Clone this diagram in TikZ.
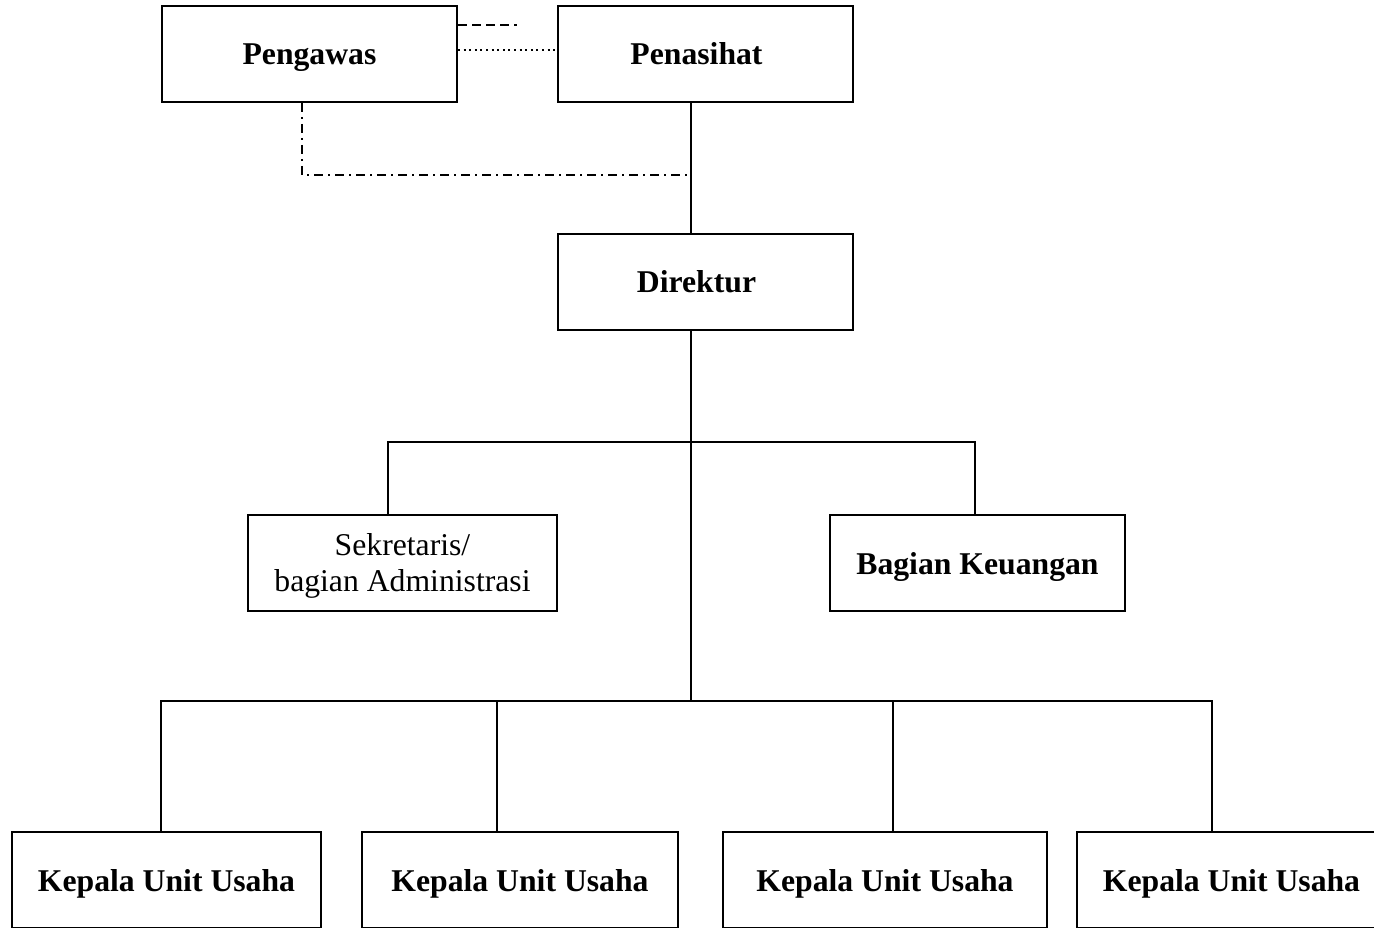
\documentclass[tikz,border=0pt]{standalone}
\usepackage{fontspec}
\setmainfont{Liberation Serif}
\begin{document}
\begin{tikzpicture}[x=1pt,y=-1pt,line width=2pt,
  box/.style={draw,rectangle,minimum width=#1,minimum height=96pt,inner sep=0pt,
              text height=30pt,text depth=8pt,
              font=\bfseries\fontsize{31.7}{36}\selectfont},
  plainbox/.style={draw,rectangle,minimum width=#1,minimum height=96pt,inner sep=0pt,align=center,
              font=\fontsize{31.7}{36}\selectfont},
  dashline/.style={dash pattern=on 9pt off 5pt},
  dotline/.style={dash pattern=on 2pt off 3.6pt},
  dashdotline/.style={dash pattern=on 9pt off 5pt on 2pt off 5pt}]
\useasboundingbox (0,0) rectangle (1374,928);
\clip (0,0) rectangle (1374,928);
\node[box=295] (peng) at (309.5,54) {Pengawas};
\node[box=295] (pen) at (705.5,54) {Penasihat\kern18pt};
\node[box=295] (dir) at (705.5,282) {Direktur\kern18pt};
\node[plainbox=309] (sek) at (402.5,563) {\rule{0pt}{28pt}Sekretaris/\\bagian Administrasi};
\node[box=295] (keu) at (977.5,563) {Bagian Keuangan};
\node[box=309] (k1) at (166.5,880) {Kepala Unit Usaha};
\node[box=316] (k2) at (520,880) {Kepala Unit Usaha};
\node[box=324] (k3) at (885,880) {Kepala Unit Usaha};
\node[box=309] (k4) at (1231.5,880) {Kepala Unit Usaha};
% top relations
\draw[dashline] ([yshift=29pt]peng.east) -- ++(59,0) coordinate (dashend);
\draw[dotline] ([yshift=4pt]peng.east) -- ([yshift=4pt]pen.west);
\draw[dashdotline] ([xshift=-7.5pt]peng.south) |- ([xshift=-14.5pt,yshift=-72pt]pen.south);
% spine
\draw ([xshift=-14.5pt]pen.south) -- ([xshift=-14.5pt]dir.north);
\draw ([xshift=-14.5pt]dir.south) -- ++(0,370);
% staff
\draw ([xshift=-14.5pt]sek.north) -- ++(0,-72) -| ([xshift=-2.5pt]keu.north);
% units
\draw ([xshift=-5.5pt]k1.north) -- ++(0,-130) -| ([xshift=-19.5pt]k4.north);
\draw ([xshift=-23pt]k2.north) -- ++(0,-130);
\draw ([xshift=8pt]k3.north) -- ++(0,-130);
\end{tikzpicture}
\end{document}
